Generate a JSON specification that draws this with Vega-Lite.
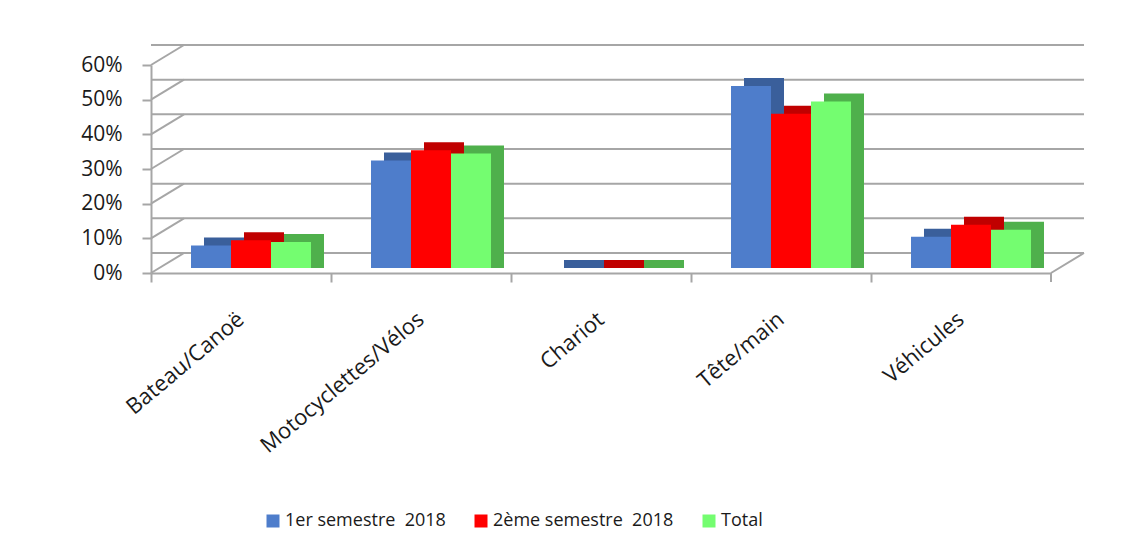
{
  "$schema": "https://vega.github.io/schema/vega-lite/v6.json",
  "width": 900,
  "height": 208,
  "autosize": "none",
  "padding": {"left": 151, "top": 65, "right": 80, "bottom": 267},
  "background": "white",
  "config": {
    "view": {"stroke": null},
    "font": "Open Sans",
    "axisY": {"labelOverlap": false, "labelBound": false, "labelSeparation": 0, "labelFontSize": 21, "labelColor": "#1a1a1a", "tickSize": 9, "tickColor": "#a6a6a6", "tickWidth": 2, "domainColor": "#a6a6a6", "domainWidth": 2, "labelPadding": 20, "grid": false}
  },
  "datasets": {
    "bars": [
      {"category": "Bateau/Canoë", "series": "1er semestre  2018", "value": 0.065},
      {"category": "Bateau/Canoë", "series": "2ème semestre  2018", "value": 0.08},
      {"category": "Bateau/Canoë", "series": "Total", "value": 0.075},
      {"category": "Motocyclettes/Vélos", "series": "1er semestre  2018", "value": 0.31},
      {"category": "Motocyclettes/Vélos", "series": "2ème semestre  2018", "value": 0.34},
      {"category": "Motocyclettes/Vélos", "series": "Total", "value": 0.33},
      {"category": "Chariot", "series": "1er semestre  2018", "value": 0},
      {"category": "Chariot", "series": "2ème semestre  2018", "value": 0},
      {"category": "Chariot", "series": "Total", "value": 0},
      {"category": "Tête/main", "series": "1er semestre  2018", "value": 0.525},
      {"category": "Tête/main", "series": "2ème semestre  2018", "value": 0.445},
      {"category": "Tête/main", "series": "Total", "value": 0.48},
      {"category": "Véhicules", "series": "1er semestre  2018", "value": 0.09},
      {"category": "Véhicules", "series": "2ème semestre  2018", "value": 0.125},
      {"category": "Véhicules", "series": "Total", "value": 0.11}
    ],
    "grid": [{"v": 0}, {"v": 0.1}, {"v": 0.2}, {"v": 0.3}, {"v": 0.4}, {"v": 0.5}, {"v": 0.6}],
    "corner": [{"v": 0}]
  },
  "resolve": {"scale": {"color": "independent", "xOffset": "independent"}},
  "layer": [
    {
      "data": {"name": "grid"},
      "mark": {"type": "rule", "color": "#a6a6a6", "strokeWidth": 2, "xOffset": 33, "x2Offset": 33, "yOffset": -20, "y2Offset": -20},
      "encoding": {
        "y": {"field": "v", "type": "quantitative", "title": null, "scale": {"domain": [0, 0.6], "nice": false},
          "axis": {"values": [0, 0.1, 0.2, 0.3, 0.4, 0.5, 0.6], "tickCount": 7, "format": ".0%", "labelOverlap": false}}
      }
    },
    {
      "data": {"name": "grid"},
      "mark": {"type": "point", "shape": "M-1,0.606L1,-0.606", "size": 1089, "filled": false, "stroke": "#a6a6a6", "strokeWidth": 2, "opacity": 1, "xOffset": 16.5, "yOffset": -10},
      "encoding": {
        "x": {"datum": "Bateau/Canoë", "type": "nominal", "bandPosition": 0, "title": null},
        "y": {"field": "v", "type": "quantitative", "title": null,
          "axis": {"values": [0, 0.1, 0.2, 0.3, 0.4, 0.5, 0.6], "tickCount": 7, "format": ".0%", "labelOverlap": false}}
      }
    },
    {
      "data": {"name": "corner"},
      "mark": {"type": "point", "shape": "M-1,0.606L1,-0.606M-1,0.606L-1,1.15", "size": 1089, "filled": false, "stroke": "#a6a6a6", "strokeWidth": 2, "opacity": 1, "xOffset": 16.5, "yOffset": -10},
      "encoding": {
        "x": {"datum": "Véhicules", "type": "nominal", "bandPosition": 1, "title": null},
        "y": {"field": "v", "type": "quantitative", "title": null,
          "axis": {"values": [0, 0.1, 0.2, 0.3, 0.4, 0.5, 0.6], "tickCount": 7, "format": ".0%", "labelOverlap": false}}
      }
    },
    {
      "data": {"name": "bars"},
      "mark": {"type": "bar", "yOffset": -13, "y2Offset": -5},
      "encoding": {
        "x": {"field": "category", "type": "nominal", "title": null},
        "xOffset": {"field": "series", "type": "nominal", "scale": {"domain": ["1er semestre  2018", "2ème semestre  2018", "Total"], "paddingInner": 0, "paddingOuter": 0.75, "align": 0.8833}},
        "y": {"field": "value", "type": "quantitative", "title": null, "stack": null,
          "axis": {"values": [0, 0.1, 0.2, 0.3, 0.4, 0.5, 0.6], "tickCount": 7, "format": ".0%", "labelOverlap": false}},
        "y2": {"datum": 0},
        "color": {"field": "series", "type": "nominal", "legend": null,
          "scale": {"domain": ["1er semestre  2018", "2ème semestre  2018", "Total"], "range": ["#3a5f9b", "#c00000", "#4fb04c"]}}
      }
    },
    {
      "data": {"name": "bars"},
      "mark": {"type": "bar", "yOffset": -5, "y2Offset": -5},
      "encoding": {
        "x": {
          "field": "category", "type": "nominal", "title": null,
          "scale": {"domain": ["Bateau/Canoë", "Motocyclettes/Vélos", "Chariot", "Tête/main", "Véhicules"], "paddingInner": 0, "paddingOuter": 0},
          "axis": {"bandPosition": 0, "labelAngle": -40, "labelAlign": "right", "labelBaseline": "middle", "labelPadding": 34, "labelFontSize": 22, "labelLimit": 400, "labelColor": "#1a1a1a", "tickSize": 9, "tickColor": "#a6a6a6", "tickWidth": 2, "domainColor": "#a6a6a6", "domainWidth": 2, "grid": false}
        },
        "xOffset": {"field": "series", "type": "nominal", "scale": {"domain": ["1er semestre  2018", "2ème semestre  2018", "Total"], "paddingInner": 0, "paddingOuter": 0.75, "align": 0.6667}},
        "y": {"field": "value", "type": "quantitative", "title": null, "stack": null,
          "axis": {"values": [0, 0.1, 0.2, 0.3, 0.4, 0.5, 0.6], "tickCount": 7, "format": ".0%", "labelOverlap": false}},
        "y2": {"datum": 0},
        "color": {
          "field": "series", "type": "nominal",
          "scale": {"domain": ["1er semestre  2018", "2ème semestre  2018", "Total"], "range": ["#4e7dcb", "#ff0000", "#74fd70"]},
          "legend": {"title": null, "orient": "none", "direction": "horizontal", "legendX": 113, "legendY": 447, "symbolType": "square", "symbolSize": 169, "symbolStrokeWidth": 0, "labelFontSize": 18, "labelLimit": 400, "labelColor": "#1a1a1a", "columnPadding": 26, "labelOffset": 3,
            "labelExpr": "replace(datum.label, '  ', ' \u00a0')"}
        }
      }
    }
  ]
}
